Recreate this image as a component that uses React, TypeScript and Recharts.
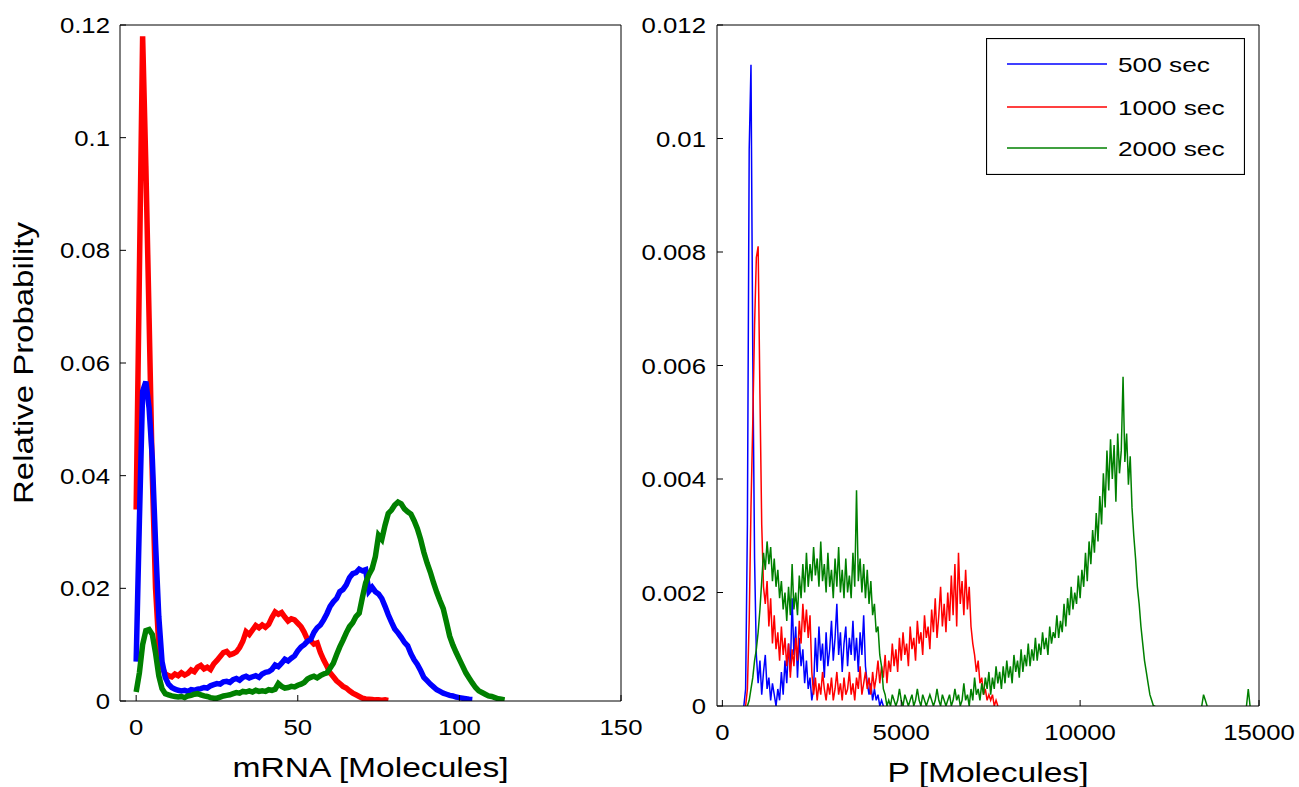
import React from 'react';
import { LineChart, Line, XAxis, YAxis, Legend, Label } from 'recharts';

const FONT = '"Liberation Sans", Arial, Helvetica, sans-serif';

const SERIES_NAMES = ['500 sec', '1000 sec', '2000 sec'];
const SERIES_COLORS = ['#0000ff', '#ff0000', '#008000'];

// ---------- left panel: mRNA ----------
const mrnaXTicks = [0, 50, 100, 150];
const mrnaYTicks = [0, 0.02, 0.04, 0.06, 0.08, 0.1, 0.12];
const mrnaYTickLabels = ['0', '0.02', '0.04', '0.06', '0.08', '0.1', '0.12'];

// values for molecule counts 0, 1, 2, ...
const mrna500 = [
  0.007, 0.032, 0.055, 0.0567, 0.052, 0.043, 0.028, 0.015, 0.007, 0.0042,
  0.0030, 0.0024, 0.0021, 0.0019, 0.0018, 0.0019, 0.0017, 0.0020, 0.0019, 0.0021,
  0.0022, 0.0024, 0.0023, 0.0027, 0.0029, 0.0031, 0.0030, 0.0034, 0.0035, 0.0033,
  0.0038, 0.0040, 0.0037, 0.0042, 0.0044, 0.0041, 0.0043, 0.0045, 0.0042, 0.0048,
  0.0051, 0.0052, 0.0056, 0.0064, 0.0061, 0.0067, 0.0074, 0.0071, 0.0076, 0.0080,
  0.0089, 0.0096, 0.0100, 0.0106, 0.0109, 0.0122, 0.0130, 0.0135, 0.0144, 0.0155,
  0.0168, 0.0176, 0.0182, 0.0194, 0.0198, 0.0206, 0.0219, 0.0226, 0.0228, 0.0234,
  0.0231, 0.0233, 0.0195, 0.0202, 0.0194, 0.0190, 0.0182, 0.0168, 0.0153, 0.0140,
  0.0128, 0.0121, 0.0113, 0.0104, 0.0098, 0.0084, 0.0073, 0.0065, 0.0054, 0.0042,
  0.0036, 0.0030, 0.0025, 0.0020, 0.0017, 0.0014, 0.0012, 0.0010, 0.0009, 0.0007,
  0.0006, 0.0005, 0.0004, 0.0003, 0.00025,
];
const mrna1000 = [
  0.034, 0.076, 0.118, 0.095, 0.068, 0.040, 0.020, 0.010, 0.006, 0.0048,
  0.0045, 0.0043, 0.0048, 0.0045, 0.0050, 0.0046, 0.0049, 0.0055, 0.0052, 0.0060,
  0.0063, 0.0057, 0.0060, 0.0056, 0.0066, 0.0072, 0.0079, 0.0086, 0.0088, 0.0082,
  0.0084, 0.0087, 0.0095, 0.0106, 0.0123, 0.0118, 0.0126, 0.0134, 0.0130, 0.0135,
  0.0131, 0.0136, 0.0148, 0.0158, 0.0154, 0.0157, 0.0149, 0.0142, 0.0146, 0.0144,
  0.0138, 0.0132, 0.0122, 0.0109, 0.0107, 0.0101, 0.0103, 0.0086, 0.0073, 0.0062,
  0.0050, 0.0043, 0.0036, 0.0031, 0.0026, 0.0023, 0.0018, 0.0014, 0.0011, 0.0008,
  0.0005, 0.00035, 0.0003, 0.00025, 0.0002, 0.0002, 0.00015, 0.0002, 0.0001,
];
const mrna2000 = [
  0.0016, 0.005, 0.010, 0.0125, 0.0127, 0.0118, 0.0085, 0.0045, 0.0022, 0.0013,
  0.0011, 0.0009, 0.0008, 0.0007, 0.0008, 0.0006, 0.0009, 0.0010, 0.0012, 0.0013,
  0.0011, 0.0009, 0.0008, 0.0006, 0.0005, 0.0005, 0.0007, 0.0009, 0.0010, 0.0011,
  0.0013, 0.0015, 0.0014, 0.0017, 0.0016, 0.0018, 0.0016, 0.0019, 0.0017, 0.0018,
  0.0017, 0.0020, 0.0019, 0.0021, 0.0031, 0.0026, 0.0023, 0.0024, 0.0026, 0.0025,
  0.0028, 0.0030, 0.0033, 0.0039, 0.0042, 0.0044, 0.0041, 0.0045, 0.0048, 0.0050,
  0.0058, 0.0067, 0.0082, 0.0096, 0.0108, 0.0121, 0.0132, 0.0139, 0.0150, 0.0156,
  0.0184, 0.0210, 0.0224, 0.0235, 0.0256, 0.0294, 0.0287, 0.0312, 0.0333, 0.0339,
  0.0348, 0.0353, 0.0350, 0.0341, 0.0336, 0.0332, 0.0320, 0.0306, 0.0287, 0.0264,
  0.0245, 0.0229, 0.0210, 0.0193, 0.0178, 0.0164, 0.0140, 0.0115, 0.0099, 0.0086,
  0.0074, 0.0062, 0.0050, 0.0041, 0.0032, 0.0024, 0.0018, 0.0015, 0.0012, 0.0009,
  0.0008, 0.0006, 0.0004, 0.0003, 0.0002,
];

// ---------- right panel: protein ----------
const pXTicks = [0, 5000, 10000, 15000];
const pYTicks = [0, 0.002, 0.004, 0.006, 0.008, 0.01, 0.012];
const pYTickLabels = ['0', '0.002', '0.004', '0.006', '0.008', '0.01', '0.012'];
const P_BIN = 50;

const p500Start = 600;
const p500 = [
  0, 0.0003, 0.0032, 0.0098, 0.0113, 0.0062, 0.0026, 0.0009, 0.0004, 0.0008,
  0.0002, 0.0006, 0.0009, 0.0003, 0.0005, 0.0001, 0.0004, 0.0002, 0, 0.0003,
  0.0001, 0.0006, 0.0002, 0.0008, 0.0004, 0.0011, 0.0006, 0.0019, 0.0009, 0.0014,
  0.0005, 0.0012, 0.0007, 0.0010, 0.0004, 0.0008, 0.0003, 0.0005, 0.0001, 0.0003,
  0.0012, 0.0006, 0.0014, 0.0008, 0.0011, 0.0005, 0.0013, 0.0007, 0.0010, 0.0015,
  0.0008, 0.0012, 0.0018, 0.0009, 0.0013, 0.0006, 0.0011, 0.0014, 0.0007, 0.0012,
  0.0009, 0.0015, 0.0008, 0.0012, 0.0006, 0.0013, 0.0009, 0.0016, 0.0007, 0.0004,
  0.0002, 0.0004, 0.0001, 0.0003, 0.0001, 0.0002, 0, 0.0001, 0,
];

const p1000Start = 650;
const p1000 = [
  0, 0.0003, 0.0015, 0.0035, 0.0050, 0.0067, 0.0079, 0.0081, 0.0055, 0.0032,
  0.0021, 0.0018, 0.0022, 0.0014, 0.0019, 0.0011, 0.0016, 0.0010, 0.0013, 0.0008,
  0.0014, 0.0009, 0.0012, 0.0007, 0.0011, 0.0005, 0.0010, 0.0007, 0.0012, 0.0008,
  0.0015, 0.0011, 0.0018, 0.0013, 0.0017, 0.0012, 0.0016, 0.0006, 0.0002, 0.0005,
  0.0001, 0.0004, 0.0002, 0.0006, 0.0003, 0.0001, 0.0004, 0.0002, 0.0005, 0.0001,
  0.0003, 0.0006, 0.0002, 0.0004, 0.0001, 0.0005, 0.0002, 0.0003, 0.0006, 0.0002,
  0.0004, 0.0001, 0.0005, 0.0003, 0.0007, 0.0002, 0.0004, 0.0006, 0.0003, 0.0005,
  0.0002, 0.0006, 0.0003, 0.0005, 0.0008, 0.0004, 0.0007, 0.0005, 0.0009, 0.0004,
  0.0008, 0.0006, 0.0011, 0.0007, 0.0010, 0.0006, 0.0012, 0.0008, 0.0013, 0.0009,
  0.0011, 0.0007, 0.0014, 0.0010, 0.0012, 0.0008, 0.0015, 0.0011, 0.0013, 0.0009,
  0.0016, 0.0012, 0.0014, 0.0010, 0.0017, 0.0013, 0.0019, 0.0012, 0.0016, 0.0021,
  0.0014, 0.0018, 0.0013, 0.0020, 0.0015, 0.0023, 0.0016, 0.0025, 0.0014, 0.0027,
  0.0018, 0.0022, 0.0016, 0.0024, 0.0017, 0.0021, 0.0014, 0.0011, 0.0009, 0.0006,
  0.0008, 0.0004, 0.0005, 0.0002, 0.0003, 0.0001, 0.0002, 0.0001, 0.0002, 0,
  0.0001, 0,
];

const p2000Start = 700;
const p2000 = [
  0, 0.0001, 0.0003, 0.0005, 0.0008, 0.0010, 0.0013, 0.0017, 0.0022, 0.0027,
  0.0024, 0.0029, 0.0025, 0.0028, 0.0022, 0.0026, 0.0021, 0.0024, 0.0019, 0.0022,
  0.0017, 0.0020, 0.0015, 0.0021, 0.0016, 0.0025, 0.0017, 0.0020, 0.0016, 0.0023,
  0.0019, 0.0025, 0.0020, 0.0027, 0.0021, 0.0025, 0.0022, 0.0028, 0.0023, 0.0026,
  0.0021, 0.0029, 0.0022, 0.0025, 0.0020, 0.0027, 0.0021, 0.0024, 0.0019, 0.0026,
  0.0021, 0.0028, 0.0020, 0.0024, 0.0019, 0.0026, 0.0020, 0.0023, 0.0019, 0.0027,
  0.0021, 0.0038, 0.0022, 0.0026, 0.0020, 0.0025, 0.0019, 0.0024, 0.0018, 0.0022,
  0.0016, 0.0018, 0.0013, 0.0014, 0.0009, 0.0007, 0.0003, 0.0002, 0, 0.0001,
  0, 0.0002, 0.0001, 0, 0.0001, 0.0003, 0.0001, 0, 0.0002, 0.0001,
  0, 0.0001, 0.0002, 0, 0.0001, 0.0003, 0.0001, 0, 0.0002, 0.0001,
  0, 0.0001, 0.0002, 0.0001, 0, 0.0001, 0.0003, 0.0001, 0, 0.0002,
  0.0001, 0, 0.0001, 0.0002, 0, 0.0001, 0.0003, 0.0001, 0.0002, 0,
  0.0001, 0.0004, 0.0001, 0.0002, 0, 0.0003, 0.0001, 0.0005, 0.0002, 0.0003,
  0.0001, 0.0004, 0.0002, 0.0005, 0.0003, 0.0006, 0.0002, 0.0005, 0.0003, 0.0007,
  0.0004, 0.0006, 0.0003, 0.0007, 0.0004, 0.0008, 0.0005, 0.0007, 0.0004, 0.0009,
  0.0006, 0.0008, 0.0005, 0.0010, 0.0006, 0.0009, 0.0007, 0.0011, 0.0007, 0.0010,
  0.0008, 0.0012, 0.0008, 0.0011, 0.0009, 0.0013, 0.0010, 0.0012, 0.0009, 0.0014,
  0.0011, 0.0013, 0.0012, 0.0016, 0.0012, 0.0015, 0.0013, 0.0018, 0.0014, 0.0019,
  0.0016, 0.0021, 0.0017, 0.0020, 0.0018, 0.0023, 0.0019, 0.0024, 0.0021, 0.0027,
  0.0022, 0.0029, 0.0025, 0.0031, 0.0027, 0.0034, 0.0029, 0.0037, 0.0032, 0.0041,
  0.0035, 0.0045, 0.0038, 0.0047, 0.0040, 0.0046, 0.0036, 0.0048, 0.0041, 0.0045,
  0.0058, 0.0043, 0.0048, 0.0039, 0.0044, 0.0035, 0.0030, 0.0026, 0.0021, 0.0018,
  0.0014, 0.0011, 0.0008, 0.0006, 0.0004, 0.0002, 0.0001, 0, 0,
];
// isolated far-right counts of the 2000 sec histogram
const p2000TailP = [13400, 13450, 13500, 13550, 14100, 14650, 14700, 14750];
const p2000TailV = [0, 0.0002, 0.0001, 0, null, 0, 0.0003, 0];

// ---------- helpers ----------
const mrnaRows = (vals: number[]) => vals.map((v, i) => ({ m: i, v }));
const pRows = (start: number, vals: number[]) => vals.map((v, i) => ({ p: start + i * P_BIN, v }));
const tailRows = p2000TailP.map((p, i) => ({ p, v: p2000TailV[i] }));

const labelFor = (ticks: number[], labels: string[], value: number) => {
  const idx = ticks.findIndex((t) => Math.abs(t - value) < 1e-12);
  return idx >= 0 ? labels[idx] : String(value);
};

const makeYTick = (ticks: number[], labels: string[]) => (props: any) => {
  const { x, y, payload } = props;
  return (
    <text
      transform={`translate(${x},${y + 8}) scale(1.12,1)`}
      textAnchor="end"
      fontFamily={FONT}
      fontSize={23}
      fill="#000"
    >
      {labelFor(ticks, labels, payload.value)}
    </text>
  );
};

const XTick = (props: any) => {
  const { x, y, payload } = props;
  return (
    <text
      transform={`translate(${x},${y + 34}) scale(1.12,1)`}
      textAnchor="middle"
      fontFamily={FONT}
      fontSize={23}
      fill="#000"
    >
      {String(payload.value)}
    </text>
  );
};

const makeXLabel = (text: string) => (props: any) => {
  const vb = props.viewBox || { x: 0, y: 0, width: 0 };
  const cx = vb.x + vb.width / 2;
  return (
    <text
      transform={`translate(${cx},${vb.y + 76}) scale(1.2,1)`}
      textAnchor="middle"
      fontFamily={FONT}
      fontSize={28}
      fill="#000"
    >
      {text}
    </text>
  );
};

const makeYLabel = (text: string) => (props: any) => {
  const vb = props.viewBox || { x: 0, y: 0, height: 0 };
  const cy = vb.y + vb.height / 2;
  return (
    <text
      transform={`translate(33,${cy}) rotate(-90) scale(1.22,1)`}
      textAnchor="middle"
      fontFamily={FONT}
      fontSize={27}
      fill="#000"
    >
      {text}
    </text>
  );
};

const LEGEND_ROWS = [26, 69, 110];
const LegendBox = (props: any) => {
  const payload = props.payload || [];
  const items = SERIES_NAMES.map((n) => payload.find((p: any) => p.value === n)).filter(Boolean);
  return (
    <svg width={259} height={137} style={{ display: 'block' }}>
      <rect x={0.5} y={0.5} width={258} height={136} fill="#fff" stroke="#000" strokeWidth={1.2} />
      {items.map((it: any, i: number) => (
        <g key={it.value}>
          <line x1={21} x2={121} y1={LEGEND_ROWS[i]} y2={LEGEND_ROWS[i]} stroke={it.color} strokeWidth={1.5} />
          <text
            transform={`translate(132,${LEGEND_ROWS[i] + 7.5}) scale(1.25,1)`}
            fontFamily={FONT}
            fontSize={21}
            fill="#000"
          >
            {it.value}
          </text>
        </g>
      ))}
    </svg>
  );
};

const axisStroke = { stroke: '#000', strokeWidth: 1 };

export default function App() {
  return (
    <div style={{ position: 'absolute', left: 0, top: 0, width: 1299, height: 787, background: '#fff' }}>
      {/* left panel */}
      <div style={{ position: 'absolute', left: 0, top: 0 }}>
        <LineChart width={665} height={787} margin={{ top: 24, right: 43, bottom: 46, left: 0 }}>
          <XAxis
            xAxisId={0}
            dataKey="m"
            type="number"
            domain={[-5, 150]}
            ticks={mrnaXTicks}
            allowDataOverflow
            height={40}
            tickSize={-6}
            tickMargin={6}
            axisLine={axisStroke}
            tickLine={axisStroke}
            tick={XTick}
            label={<Label content={makeXLabel('mRNA [Molecules]')} />}
          />
          <XAxis
            xAxisId="top"
            orientation="top"
            dataKey="m"
            type="number"
            domain={[-5, 150]}
            ticks={mrnaXTicks}
            allowDataOverflow
            height={1}
            tickSize={-6}
            axisLine={axisStroke}
            tickLine={axisStroke}
            tick={false}
          />
          <YAxis
            yAxisId={0}
            type="number"
            domain={[0, 0.12]}
            ticks={mrnaYTicks}
            allowDataOverflow
            width={120}
            tickSize={-6}
            tickMargin={16}
            axisLine={axisStroke}
            tickLine={axisStroke}
            tick={makeYTick(mrnaYTicks, mrnaYTickLabels)}
            label={<Label content={makeYLabel('Relative Probability')} />}
          />
          <YAxis
            yAxisId="right"
            orientation="right"
            type="number"
            domain={[0, 0.12]}
            ticks={mrnaYTicks}
            allowDataOverflow
            width={1}
            tickSize={-6}
            axisLine={axisStroke}
            tickLine={axisStroke}
            tick={false}
          />
          <Line data={mrnaRows(mrna1000)} dataKey="v" name={SERIES_NAMES[1]} stroke={SERIES_COLORS[1]} strokeWidth={5.5} dot={false} isAnimationActive={false} />
          <Line data={mrnaRows(mrna500)} dataKey="v" name={SERIES_NAMES[0]} stroke={SERIES_COLORS[0]} strokeWidth={5.5} dot={false} isAnimationActive={false} />
          <Line data={mrnaRows(mrna2000)} dataKey="v" name={SERIES_NAMES[2]} stroke={SERIES_COLORS[2]} strokeWidth={5.5} dot={false} isAnimationActive={false} />
        </LineChart>
      </div>

      {/* right panel */}
      <div style={{ position: 'absolute', left: 620, top: 0 }}>
        <LineChart width={679} height={787} margin={{ top: 24, right: 39, bottom: 41, left: 0 }}>
          <XAxis
            xAxisId={0}
            dataKey="p"
            type="number"
            domain={[-150, 15000]}
            ticks={pXTicks}
            allowDataOverflow
            height={40}
            tickSize={-6}
            tickMargin={6}
            axisLine={axisStroke}
            tickLine={axisStroke}
            tick={XTick}
            label={<Label content={makeXLabel('P [Molecules]')} />}
          />
          <XAxis
            xAxisId="top"
            orientation="top"
            dataKey="p"
            type="number"
            domain={[-150, 15000]}
            ticks={pXTicks}
            allowDataOverflow
            height={1}
            tickSize={-6}
            axisLine={axisStroke}
            tickLine={axisStroke}
            tick={false}
          />
          <YAxis
            yAxisId={0}
            type="number"
            domain={[0, 0.012]}
            ticks={pYTicks}
            allowDataOverflow
            width={97}
            tickSize={-6}
            tickMargin={17}
            axisLine={axisStroke}
            tickLine={axisStroke}
            tick={makeYTick(pYTicks, pYTickLabels)}
          />
          <YAxis
            yAxisId="right"
            orientation="right"
            type="number"
            domain={[0, 0.012]}
            ticks={pYTicks}
            allowDataOverflow
            width={1}
            tickSize={-6}
            axisLine={axisStroke}
            tickLine={axisStroke}
            tick={false}
          />
          <Line data={pRows(p500Start, p500)} dataKey="v" name={SERIES_NAMES[0]} stroke={SERIES_COLORS[0]} strokeWidth={1.5} dot={false} isAnimationActive={false} />
          <Line data={pRows(p1000Start, p1000)} dataKey="v" name={SERIES_NAMES[1]} stroke={SERIES_COLORS[1]} strokeWidth={1.5} dot={false} isAnimationActive={false} />
          <Line data={pRows(p2000Start, p2000)} dataKey="v" name={SERIES_NAMES[2]} stroke={SERIES_COLORS[2]} strokeWidth={1.5} dot={false} isAnimationActive={false} />
          <Line data={tailRows} dataKey="v" name="2000 sec tail" legendType="none" stroke={SERIES_COLORS[2]} strokeWidth={1.5} dot={false} isAnimationActive={false} />
          <Legend
            layout="vertical"
            align="center"
            verticalAlign="middle"
            content={LegendBox}
            wrapperStyle={{ left: 366, top: 38, width: 259, height: 137, margin: 0, padding: 0 }}
          />
        </LineChart>
      </div>
    </div>
  );
}
